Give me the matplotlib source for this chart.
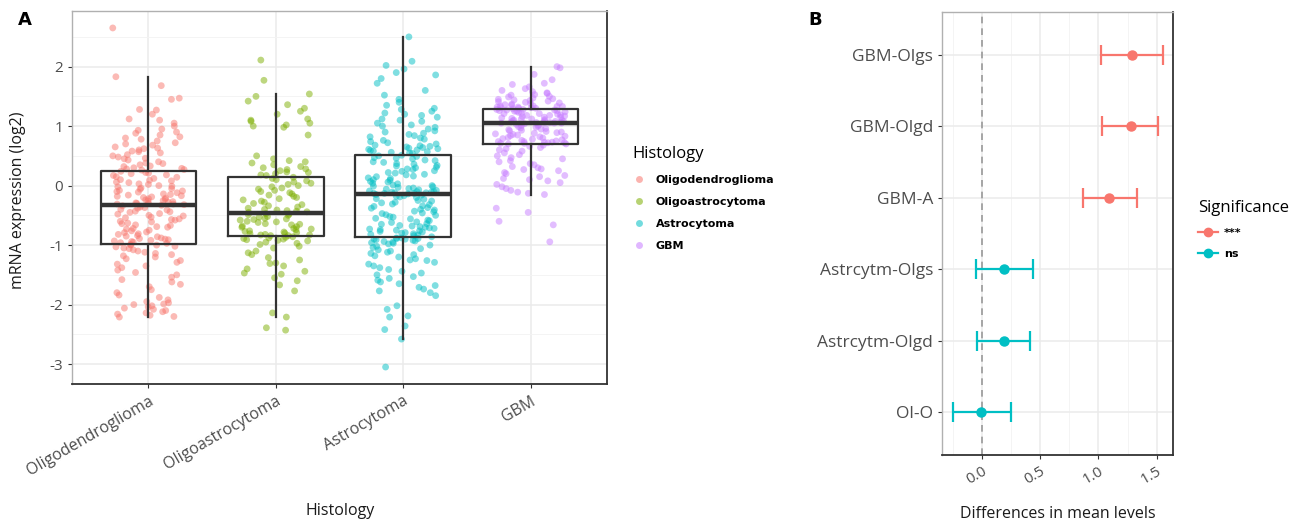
import numpy as np
import matplotlib
matplotlib.use('Agg')
import matplotlib.pyplot as plt
from matplotlib.lines import Line2D

plt.rcParams['font.family'] = ['Open Sans', 'DejaVu Sans']
plt.rcParams['axes.unicode_minus'] = False

# ---------------- data ----------------
categories = ['Oligodendroglioma', 'Oligoastrocytoma', 'Astrocytoma', 'GBM']
hist_colors = ['#F8766D', '#7CAE00', '#00BFC4', '#C77CFF']

oligodendroglioma = [
    2.65, 1.83, 1.68, 1.47, 1.45, 1.28, 1.27, 1.20, 1.12, 1.10,
    1.05, 1.00, 0.95, 0.93, 0.90, 0.88, 0.85, 0.82, 0.80, 0.78,
    0.75, 0.72, 0.70, 0.68, 0.65, 0.63, 0.60, 0.58, 0.57, 0.55,
    0.52, 0.50, 0.48, 0.46, 0.45, 0.43, 0.40, 0.38, 0.37, 0.35,
    0.33, 0.32, 0.30, 0.29, 0.28, 0.27, 0.26, 0.62,
    0.24, 0.22, 0.21, 0.20, 0.18, 0.17, 0.15, 0.14, 0.12, 0.10,
    0.09, 0.08, 0.06, 0.05, 0.03, 0.02, 0.00, -0.01, -0.02, -0.04,
    -0.05, -0.06, -0.08, -0.09, -0.10, -0.11, -0.12, -0.14, -0.15, -0.16,
    -0.17, -0.18, -0.19, -0.20, -0.21, -0.22, -0.23, -0.24, -0.25, -0.26,
    -0.27, -0.28, -0.29, -0.30, -0.30, -0.31, -0.31, -0.32,
    -0.33, -0.34, -0.36, -0.37, -0.38, -0.40, -0.41, -0.43, -0.44, -0.45,
    -0.47, -0.48, -0.50, -0.51, -0.53, -0.54, -0.56, -0.57, -0.58, -0.60,
    -0.61, -0.63, -0.64, -0.66, -0.67, -0.69, -0.70, -0.72, -0.73, -0.75,
    -0.76, -0.78, -0.79, -0.81, -0.82, -0.84, -0.85, -0.86, -0.88, -0.89,
    -0.90, -0.91, -0.92, -0.93, -0.94, -0.95, -0.96, -0.97,
    -0.99, -1.00, -1.02, -1.03, -1.05, -1.06, -1.08, -1.10, -1.12, -1.14,
    -1.16, -1.18, -1.20, -1.23, -1.26, -1.29, -1.32, -1.35, -1.38, -1.42,
    -1.46, -1.50, -1.54, -1.58, -1.62, -1.66, -1.70, -1.75, -1.80, -1.84,
    -1.88, -1.92, -1.95, -1.97, -1.99, -2.00, -2.02, -2.04, -2.06, -2.08,
    -2.10, -2.12, -2.14, -2.16, -2.18, -2.20, -2.21, -1.00,
]

oligoastrocytoma = [
    2.11, 1.77, 1.54, 1.50, 1.42, 1.36, 1.30, 1.25, 1.20, 1.12,
    1.10, 1.08, 1.05, 1.02, 1.00, 0.98, 0.85, 0.50, 0.45, 0.42,
    0.40, 0.38, 0.35, 0.32, 0.30, 0.28, 0.27, 0.25, 0.23, 0.22,
    0.20, 0.18, 0.17,
    0.14, 0.12, 0.10, 0.08, 0.06, 0.04, 0.02, 0.00, -0.02, -0.04,
    -0.06, -0.08, -0.10, -0.12, -0.14, -0.16, -0.18, -0.20, -0.22, -0.24,
    -0.26, -0.28, -0.30, -0.32, -0.34, -0.36, -0.38, -0.40, -0.41, -0.42,
    -0.43, -0.44, -0.45,
    -0.47, -0.48, -0.49, -0.50, -0.52, -0.53, -0.55, -0.56, -0.57, -0.58,
    -0.60, -0.61, -0.62, -0.64, -0.65, -0.66, -0.68, -0.69, -0.70, -0.72,
    -0.73, -0.74, -0.76, -0.77, -0.78, -0.79, -0.80, -0.81, -0.82, -0.83,
    -0.83, -0.84, -0.84,
    -0.86, -0.87, -0.88, -0.89, -0.90, -0.91, -0.92, -0.93, -0.95, -0.97,
    -0.99, -1.02, -1.05, -1.10, -1.13, -1.16, -1.21, -1.25, -1.30, -1.31,
    -1.35, -1.40, -1.44, -1.47, -1.49, -1.55, -1.60, -1.67, -1.77, -2.14,
    -2.21, -2.39, -2.43,
]

astrocytoma = [
    2.50, 2.09, 2.02, 1.96, 1.90, 1.86, 1.80, 1.72, 1.60, 1.52,
    1.45, 1.40, 1.35, 1.30, 1.28, 1.25, 1.22, 1.20, 1.18, 1.15,
    1.12, 1.10, 1.08, 1.05, 1.02, 1.00, 0.98, 0.95, 0.92, 0.90,
    0.88, 0.86, 0.84, 0.82, 0.80, 0.78, 0.76, 0.74, 0.72, 0.70,
    0.68, 0.67, 0.66, 0.65, 0.64, 0.63, 0.62, 0.61, 0.60, 0.59,
    0.58, 0.57, 0.56, 0.55, 0.54,
    0.51, 0.50, 0.49, 0.47, 0.46, 0.45, 0.43, 0.42, 0.40, 0.39,
    0.37, 0.36, 0.34, 0.33, 0.31, 0.30, 0.28, 0.27, 0.25, 0.24,
    0.22, 0.21, 0.19, 0.18, 0.16, 0.15, 0.13, 0.12, 0.10, 0.09,
    0.07, 0.06, 0.04, 0.03, 0.01, 0.00, -0.01, -0.02, -0.03, -0.04,
    -0.05, -0.06, -0.07, -0.08, -0.09, -0.10, -0.10, -0.11, -0.11, -0.12,
    -0.12, -0.13, -0.13, -0.13, -0.14,
    -0.15, -0.16, -0.17, -0.18, -0.19, -0.20, -0.22, -0.23, -0.25, -0.26,
    -0.28, -0.29, -0.31, -0.32, -0.34, -0.35, -0.37, -0.38, -0.40, -0.41,
    -0.43, -0.44, -0.46, -0.47, -0.49, -0.50, -0.52, -0.53, -0.55, -0.56,
    -0.58, -0.59, -0.61, -0.62, -0.64, -0.65, -0.67, -0.68, -0.69, -0.70,
    -0.71, -0.72, -0.73, -0.74, -0.75, -0.76, -0.77, -0.78, -0.79, -0.80,
    -0.81, -0.82, -0.83, -0.84, -0.86,
    -0.88, -0.88, -0.89, -0.89, -0.90, -0.90, -0.91, -0.92, -0.93, -0.94,
    -0.95, -0.96, -0.97, -0.98, -1.00, -1.02, -1.04, -1.06, -1.08, -1.10,
    -1.12, -1.14, -1.16, -1.18, -1.20, -1.23, -1.26, -1.29, -1.32, -1.35,
    -1.38, -1.41, -1.44, -1.47, -1.50, -1.53, -1.56, -1.59, -1.62, -1.65,
    -1.68, -1.71, -1.74, -1.77, -1.80, -1.85, -2.02, -2.08, -2.19, -2.21,
    -2.36, -2.42, -2.58, -3.05, -1.25,
]

gbm = [
    2.00, 1.98, 1.87, 1.78, 1.72, 1.70, 1.66, 1.63, 1.60, 1.58,
    1.56, 1.55, 1.53, 1.52, 1.50, 1.49, 1.47, 1.46, 1.45, 1.44,
    1.43, 1.42, 1.41, 1.40, 1.39, 1.38, 1.37, 1.36, 1.35, 1.34,
    1.34, 1.33, 1.33, 1.32, 1.32, 1.31, 1.31, 1.30, 1.30, 1.29,
    1.28, 1.28, 1.27, 1.27, 1.26, 1.26, 1.25, 1.25, 1.24, 1.23,
    1.22, 1.21, 1.21, 1.20, 1.19, 1.18, 1.18, 1.17, 1.16, 1.15,
    1.15, 1.14, 1.13, 1.12, 1.12, 1.11, 1.10, 1.10, 1.09, 1.09,
    1.08, 1.08, 1.07, 1.07, 1.06, 1.06, 1.06, 1.05, 1.05, 1.05,
    1.04, 1.03, 1.02, 1.01, 1.00, 0.99, 0.98, 0.97, 0.96, 0.95,
    0.94, 0.93, 0.92, 0.91, 0.90, 0.89, 0.88, 0.87, 0.86, 0.85,
    0.84, 0.83, 0.82, 0.81, 0.80, 0.79, 0.78, 0.77, 0.76, 0.75,
    0.74, 0.74, 0.73, 0.73, 0.72, 0.72, 0.71, 0.71, 0.70, 0.70,
    0.68, 0.66, 0.64, 0.62, 0.60, 0.58, 0.55, 0.52, 0.50, 0.47,
    0.45, 0.42, 0.40, 0.37, 0.35, 0.32, 0.30, 0.28, 0.27, 0.25,
    0.22, 0.20, 0.17, 0.15, 0.12, 0.10, 0.08, 0.05, 0.02, -0.02,
    -0.05, -0.08, -0.11, -0.13, -0.15, -0.38, -0.45, -0.60, -0.66, -0.945,
]

groups = [oligodendroglioma, oligoastrocytoma, astrocytoma, gbm]

comparisons = ['Ol-O', 'Astrcytm-Olgd', 'Astrcytm-Olgs', 'GBM-A', 'GBM-Olgd', 'GBM-Olgs']
diff = [-0.01, 0.19, 0.19, 1.09, 1.28, 1.29]
lwr = [-0.25, -0.04, -0.05, 0.87, 1.03, 1.02]
upr = [0.25, 0.41, 0.44, 1.33, 1.51, 1.55]
significance = ['ns', 'ns', 'ns', '***', '***', '***']
sig_levels = ['***', 'ns']
sig_colors = {'***': '#F8766D', 'ns': '#00BFC4'}

# ---------------- layout ----------------
W, H = 1308, 523
fig = plt.figure(figsize=(W / 100, H / 100), dpi=100)
fig.patch.set_facecolor('white')


def rect(l, t, r, b):
    return [l / W, 1 - b / H, (r - l) / W, (b - t) / H]


TICK_COLOR = '#4D4D4D'
GRID = '#EBEBEB'


def style_axes(ax):
    ax.set_facecolor('white')
    for s in ['top', 'left']:
        ax.spines[s].set_color('#B0B0B0')
        ax.spines[s].set_linewidth(1.0)
    for s in ['bottom', 'right']:
        ax.spines[s].set_color('#333333')
        ax.spines[s].set_linewidth(1.3)
    ax.tick_params(which='major', length=3, width=0.8, color='#333333',
                   labelcolor=TICK_COLOR)
    ax.tick_params(which='minor', length=0)
    ax.set_axisbelow(True)


# ---------------- Panel A ----------------
axA = fig.add_axes(rect(72, 11, 607, 384))
style_axes(axA)
# deterministic horizontal jitter (Weyl-type sequence, no randomness)
a1, a2, a3 = 0.7548776662, 0.5698402910, 0.3819660113
for i, vals in enumerate(groups):
    vals = np.array(vals)
    k = np.arange(len(vals)).astype(float)
    frac = (k * a1 + k * k * a2 * 0.5 + k * k * k * a3 * 0.01 + 0.29 * i) % 1.0
    x = (i + 1) + (frac - 0.5) * 0.56
    axA.scatter(x, vals, s=24, color=hist_colors[i], alpha=0.5,
                edgecolors='none', zorder=2)

axA.boxplot(groups, positions=[1, 2, 3, 4], widths=0.75, showfliers=False,
            whis=1.5, manage_ticks=False,
            boxprops=dict(color='#333333', linewidth=1.6),
            whiskerprops=dict(color='#333333', linewidth=1.6),
            capprops=dict(linewidth=0),
            medianprops=dict(color='#333333', linewidth=3.2),
            zorder=3)

axA.set_xlim(0.4, 4.6)
axA.set_ylim(-3.335, 2.935)
axA.set_yticks([-3, -2, -1, 0, 1, 2])
axA.set_yticklabels(['-3', '-2', '-1', '0', '1', '2'], fontsize=11)
axA.set_yticks(np.arange(-2.5, 3.0, 1.0), minor=True)
axA.set_xticks([1, 2, 3, 4])
axA.set_xticklabels(categories, rotation=30, ha='right', va='top',
                    rotation_mode='anchor', fontsize=11.5)
axA.grid(which='major', color=GRID, linewidth=1.1)
axA.grid(which='minor', axis='y', color='#F3F3F3', linewidth=0.6)

fig.text(18 / W, 1 - 200 / H, 'mRNA expression (log2)', rotation=90,
         ha='center', va='center', fontsize=11.5, color='#1A1A1A')
fig.text(340 / W, 1 - 511 / H, 'Histology', ha='center', va='center',
         fontsize=11.5, color='#1A1A1A')
fig.text(18 / W, 1 - 20 / H, 'A', ha='left', va='center', fontsize=13,
         fontweight='bold', family='DejaVu Sans')

handlesA = [Line2D([], [], marker='o', linestyle='none', markersize=5,
                   markerfacecolor=c, markeredgecolor='none', alpha=0.55)
            for c in hist_colors]
legA = fig.legend(handlesA, categories, loc='upper left',
                  bbox_to_anchor=(628 / W, 1 - 142 / H), frameon=False,
                  title='Histology', title_fontsize=12,
                  prop={'family': 'DejaVu Sans', 'weight': 'bold', 'size': 8},
                  handlelength=1.2, handletextpad=0.9, labelspacing=1.1,
                  borderaxespad=0)
legA._legend_box.align = 'left'

# ---------------- Panel B ----------------
axB = fig.add_axes(rect(942, 12, 1173, 455))
style_axes(axB)
ypos = np.arange(1, len(comparisons) + 1)
for y, d, lo, hi, sg in zip(ypos, diff, lwr, upr, significance):
    axB.errorbar([d], [y], xerr=[[d - lo], [hi - d]], fmt='o',
                 color=sig_colors[sg], markersize=6.5, elinewidth=1.6,
                 capsize=7, capthick=1.6, zorder=3)
axB.axvline(0, color='#999999', linestyle=(0, (4, 3)), linewidth=1.2, zorder=2)
axB.set_xlim(-0.34, 1.64)
axB.set_ylim(0.4, 6.6)
axB.set_yticks(ypos)
axB.set_yticklabels(comparisons, fontsize=12.5)
axB.set_xticks([0, 0.5, 1.0, 1.5])
axB.set_xticklabels(['0.0', '0.5', '1.0', '1.5'], rotation=30, ha='right',
                    va='top', rotation_mode='anchor', fontsize=11)
axB.set_xticks([-0.25, 0.25, 0.75, 1.25], minor=True)
axB.grid(which='major', color=GRID, linewidth=1.1)
axB.grid(which='minor', axis='x', color='#F3F3F3', linewidth=0.6)

fig.text(1058 / W, 1 - 514 / H, 'Differences in mean levels', ha='center',
         va='center', fontsize=11.5, color='#1A1A1A')
fig.text(808 / W, 1 - 20 / H, 'B', ha='left', va='center', fontsize=13,
         fontweight='bold', family='DejaVu Sans')

handlesB = [Line2D([], [], marker='o', color=sig_colors[s], markersize=6,
                   linewidth=1.6) for s in sig_levels]
legB = fig.legend(handlesB, sig_levels, loc='upper left',
                  bbox_to_anchor=(1194 / W, 1 - 196 / H), frameon=False,
                  title='Significance', title_fontsize=12,
                  prop={'family': 'DejaVu Sans', 'weight': 'bold', 'size': 8},
                  handlelength=1.8, handletextpad=0.5, labelspacing=1.0,
                  borderaxespad=0)
legB._legend_box.align = 'left'

fig.savefig('out.png', dpi=100, facecolor='white')
